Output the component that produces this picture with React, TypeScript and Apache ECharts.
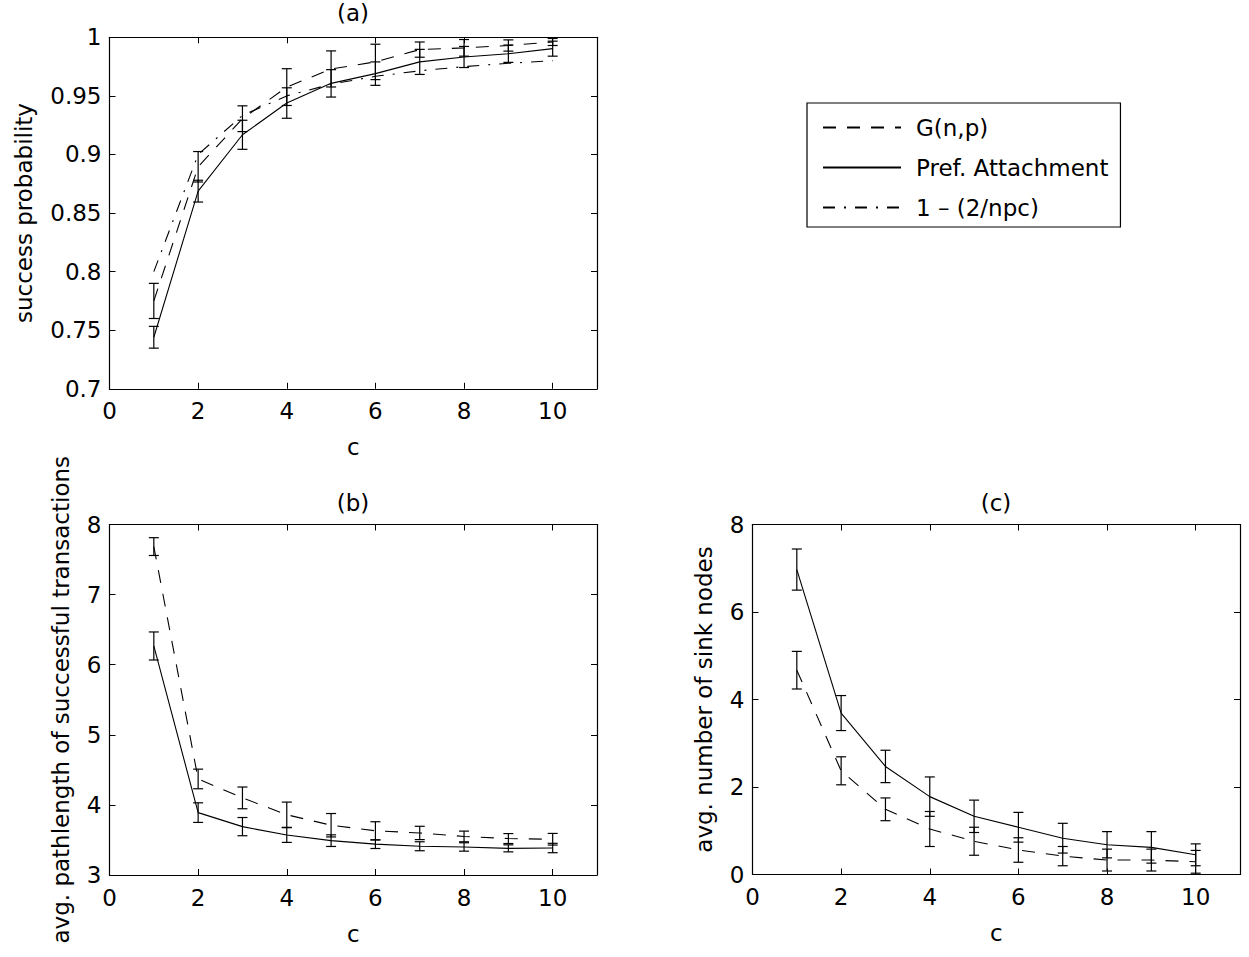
import React, { useEffect, useRef } from "react";
import * as echarts from "echarts";

// ---------- data ----------
const cValues = [1, 2, 3, 4, 5, 6, 7, 8, 9, 10];
const legendNames = ["G(n,p)", "Pref. Attachment", "1 – (2/npc)"];

// (a) success probability
const gnpA = [0.775, 0.8895, 0.9305, 0.9575, 0.973, 0.979, 0.9895, 0.991, 0.993, 0.996];
const gnpAErr = [0.015, 0.013, 0.011, 0.0157, 0.0154, 0.0151, 0.0065, 0.0071, 0.0048, 0.003];
const prefA = [0.744, 0.8687, 0.9168, 0.9439, 0.9607, 0.969, 0.979, 0.9832, 0.986, 0.9903];
const prefAErr = [0.0093, 0.0093, 0.0124, 0.013, 0.0117, 0.01, 0.0107, 0.009, 0.0074, 0.0064];
const theoryA = [0.8, 0.9, 0.9333, 0.95, 0.96, 0.9667, 0.9714, 0.975, 0.9778, 0.98];

// (b) avg. pathlength of successful transactions
const gnpB = [7.685, 4.37, 4.1, 3.86, 3.71, 3.63, 3.6, 3.55, 3.52, 3.51];
const gnpBErr = [0.127, 0.14, 0.155, 0.18, 0.167, 0.13, 0.095, 0.076, 0.071, 0.083];
const prefB = [6.267, 3.89, 3.69, 3.57, 3.49, 3.44, 3.41, 3.4, 3.38, 3.385];
const prefBErr = [0.2, 0.14, 0.13, 0.105, 0.083, 0.062, 0.064, 0.06, 0.05, 0.067];

// (c) avg. number of sink nodes
const gnpC = [4.67, 2.37, 1.49, 1.04, 0.76, 0.56, 0.42, 0.33, 0.33, 0.29];
const gnpCErr = [0.43, 0.32, 0.26, 0.4, 0.32, 0.28, 0.22, 0.25, 0.25, 0.26];
const prefC = [6.97, 3.69, 2.47, 1.78, 1.33, 1.08, 0.83, 0.68, 0.62, 0.45];
const prefCErr = [0.47, 0.4, 0.37, 0.45, 0.37, 0.34, 0.34, 0.3, 0.36, 0.25];

// ---------- styling ----------
const FONT = "'DejaVu Sans', 'Liberation Sans', Arial, sans-serif";
const FS = 23;
const BLACK = "#000";
const DASHED = [13, 11];
const DASHDOT = [12, 9, 2, 9];

const textBase = { color: BLACK, fontFamily: FONT, fontSize: FS };

function linePoints(vals: number[]) {
  return cValues.map((c, i) => [c, vals[i]]);
}
function errPoints(vals: number[], errs: number[]) {
  return cValues.map((c, i) => [c, vals[i], errs[i]]);
}

function lineSeries(name: string, axis: number, vals: number[], type: any) {
  return {
    type: "line",
    name,
    xAxisIndex: axis * 2,
    yAxisIndex: axis * 2,
    data: linePoints(vals),
    symbol: "none",
    showSymbol: false,
    lineStyle: { color: BLACK, width: 1.1, type },
    itemStyle: { color: BLACK },
    z: 2,
  };
}

function errSeries(name: string, axis: number, vals: number[], errs: number[]) {
  return {
    type: "custom",
    name,
    xAxisIndex: axis * 2,
    yAxisIndex: axis * 2,
    data: errPoints(vals, errs),
    encode: { x: 0, y: 1 },
    z: 3,
    renderItem: (params: any, api: any) => {
      const x = api.value(0);
      const y = api.value(1);
      const e = api.value(2);
      const top = api.coord([x, y + e]);
      const bot = api.coord([x, y - e]);
      const hw = 5;
      const style = { stroke: BLACK, lineWidth: 1.2, fill: "none" };
      return {
        type: "group",
        children: [
          { type: "line", shape: { x1: top[0], y1: top[1], x2: bot[0], y2: bot[1] }, style },
          { type: "line", shape: { x1: top[0] - hw, y1: top[1], x2: top[0] + hw, y2: top[1] }, style },
          { type: "line", shape: { x1: bot[0] - hw, y1: bot[1], x2: bot[0] + hw, y2: bot[1] }, style },
        ],
      };
    },
  };
}

function xAxesFor(gridIndex: number) {
  const common = {
    type: "value",
    gridIndex,
    min: 0,
    max: 11,
    interval: 2,
    axisLine: { onZero: false, lineStyle: { color: BLACK, width: 1.2 } },
    axisTick: { inside: true, length: 6, lineStyle: { color: BLACK, width: 1 } },
    splitLine: { show: false },
  };
  return [
    {
      ...common,
      position: "bottom",
      axisLabel: { ...textBase, margin: 11, showMaxLabel: false },
      name: "c",
      nameLocation: "middle",
      nameGap: 47,
      nameTextStyle: textBase,
    },
    { ...common, position: "top", axisLabel: { show: false } },
  ];
}

function yAxesFor(gridIndex: number, min: number, max: number, interval: number, name: string, nameGap: number) {
  const common = {
    type: "value",
    gridIndex,
    min,
    max,
    interval,
    axisLine: { onZero: false, lineStyle: { color: BLACK, width: 1.2 } },
    axisTick: { inside: true, length: 6, lineStyle: { color: BLACK, width: 1 } },
    splitLine: { show: false },
  };
  return [
    {
      ...common,
      position: "left",
      axisLabel: { ...textBase, margin: 8 },
      name,
      nameLocation: "middle",
      nameRotate: 90,
      nameGap,
      nameTextStyle: textBase,
    },
    { ...common, position: "right", axisLabel: { show: false } },
  ];
}

function titleAt(text: string, left: number, top: number) {
  return {
    text,
    left,
    top,
    textAlign: "center",
    padding: 0,
    textStyle: { ...textBase, fontWeight: "normal" },
  };
}

export default function App() {
  const ref = useRef<HTMLDivElement>(null);

  useEffect(() => {
    if (!ref.current) return;
    const chart = echarts.init(ref.current, undefined, { renderer: "svg" });
    const option: any = {
      animation: false,
      backgroundColor: "#fff",
      textStyle: { fontFamily: FONT },
      title: [
        titleAt("(a)", 353, 1),
        titleAt("(b)", 353, 491),
        titleAt("(c)", 996, 491),
      ],
      legend: {
        data: legendNames,
        orient: "vertical",
        left: 807,
        top: 103,
        itemWidth: 78,
        itemHeight: 20,
        itemGap: 17,
        padding: [13, 12, 8, 15],
        borderColor: BLACK,
        borderWidth: 1.2,
        backgroundColor: "#fff",
        selectedMode: false,
        itemStyle: { color: "rgba(0,0,0,0)", borderColor: "rgba(0,0,0,0)", borderWidth: 0, opacity: 0 },
        textStyle: { color: BLACK, fontFamily: FONT, fontSize: 23, padding: [0, 0, 0, 10] },
      },
      grid: [
        { left: 109.5, top: 37.3, width: 487.5, height: 351.5 },
        { left: 109.5, top: 524.5, width: 487.5, height: 350.5 },
        { left: 752.5, top: 524.5, width: 487.5, height: 350 },
      ],
      xAxis: [...xAxesFor(0), ...xAxesFor(1), ...xAxesFor(2)],
      yAxis: [
        ...yAxesFor(0, 0.7, 1, 0.05, "success probability", 74),
        ...yAxesFor(1, 3, 8, 1, "avg. pathlength of successful transactions", 37),
        ...yAxesFor(2, 0, 8, 2, "avg. number of sink nodes", 37),
      ],
      series: [
        lineSeries(legendNames[0], 0, gnpA, DASHED),
        lineSeries(legendNames[1], 0, prefA, "solid"),
        lineSeries(legendNames[2], 0, theoryA, DASHDOT),
        errSeries("G(n,p) error (a)", 0, gnpA, gnpAErr),
        errSeries("Pref. Attachment error (a)", 0, prefA, prefAErr),

        lineSeries(legendNames[0], 1, gnpB, DASHED),
        lineSeries(legendNames[1], 1, prefB, "solid"),
        errSeries("G(n,p) error (b)", 1, gnpB, gnpBErr),
        errSeries("Pref. Attachment error (b)", 1, prefB, prefBErr),

        lineSeries(legendNames[0], 2, gnpC, DASHED),
        lineSeries(legendNames[1], 2, prefC, "solid"),
        errSeries("G(n,p) error (c)", 2, gnpC, gnpCErr),
        errSeries("Pref. Attachment error (c)", 2, prefC, prefCErr),
      ],
    };
    chart.setOption(option);
    return () => chart.dispose();
  }, []);

  return (
    <div
      ref={ref}
      style={{ position: "absolute", left: 0, top: 0, width: 1249, height: 957, background: "#fff" }}
    />
  );
}
